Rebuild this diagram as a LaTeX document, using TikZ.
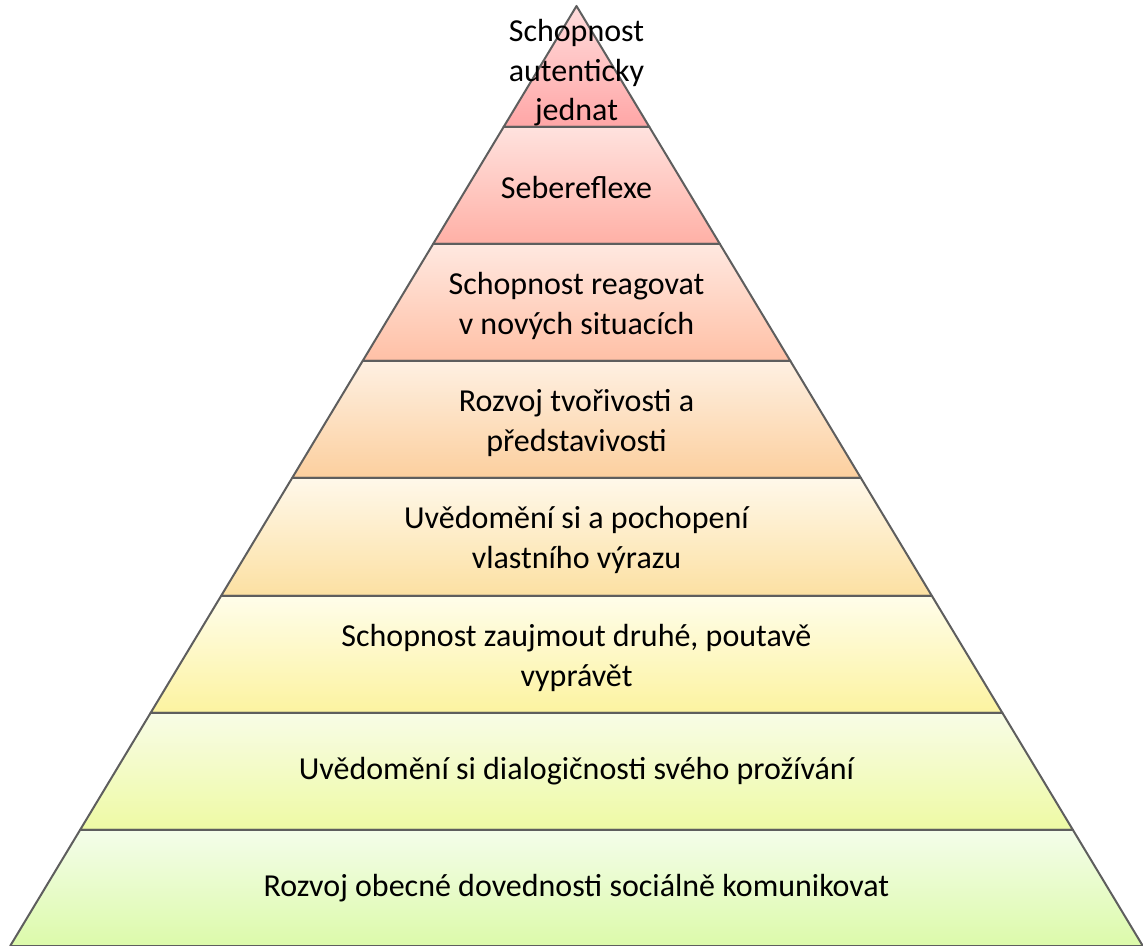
\documentclass[tikz,border=0pt]{standalone}
\usepackage{fontspec}
\setmainfont{Carlito}
\definecolor{t1}{HTML}{FFDCDC}\definecolor{b1}{HTML}{FFA6A6}
\definecolor{t2}{HTML}{FFE2DE}\definecolor{b2}{HTML}{FFB0A6}
\definecolor{t3}{HTML}{FFE8E0}\definecolor{b3}{HTML}{FFC0A6}
\definecolor{t4}{HTML}{FEF0E2}\definecolor{b4}{HTML}{FCCF9E}
\definecolor{t5}{HTML}{FFF8EA}\definecolor{b5}{HTML}{FCE0A2}
\definecolor{t6}{HTML}{FFFDEA}\definecolor{b6}{HTML}{FCF3A0}
\definecolor{t7}{HTML}{F8FCE6}\definecolor{b7}{HTML}{EEFAA4}
\definecolor{t8}{HTML}{F4FDEA}\definecolor{b8}{HTML}{DCFAAA}
\definecolor{edgegray}{HTML}{5E5E5E}
\begin{document}
\begin{tikzpicture}[x=1pt,y=1pt,
  lbl/.style={font=\fontsize{32}{39.5}\selectfont, align=center, text=black, inner sep=0pt},
  edge/.style={draw=edgegray, line width=2pt, line join=round}]
\useasboundingbox (0,0) rectangle (1143,945);
\def\ax{576.5}\def\ay{6}\def\k{0.6025}
\foreach \ya/\yb/\ct/\cb in {6/127/t1/b1,127/244/t2/b2,244/361/t3/b3,361/478/t4/b4,478/596/t5/b5,596/713/t6/b6,713/830/t7/b7,830/946/t8/b8}{
  \pgfmathsetmacro\wa{\k*(\ya-\ay)}
  \pgfmathsetmacro\wb{\k*(\yb-\ay)}
  \shade[top color=\ct, bottom color=\cb] (\ax-\wa,945-\ya) -- (\ax+\wa,945-\ya) -- (\ax+\wb,945-\yb) -- (\ax-\wb,945-\yb) -- cycle;
}
\foreach \ya/\yb in {6/127,127/244,244/361,361/478,478/596,596/713,713/830,830/946}{
  \pgfmathsetmacro\wa{\k*(\ya-\ay)}
  \pgfmathsetmacro\wb{\k*(\yb-\ay)}
  \draw[edge] (\ax-\wa,945-\ya) -- (\ax+\wa,945-\ya) -- (\ax+\wb,945-\yb) -- (\ax-\wb,945-\yb) -- cycle;
}
\node[lbl] (l1) at (\ax,945-73) {Schopnost\\autenticky\\jednat};
\node[lbl] (l2) at (\ax,945-188) {Sebereflexe};
\node[lbl] (l3) at (\ax,945-306) {Schopnost reagovat\\v nových situacích};
\node[lbl] (l4) at (\ax,945-423) {Rozvoj tvořivosti a\\představivosti};
\node[lbl] (l5) at (\ax,945-540) {Uvědomění si a pochopení\\vlastního výrazu};
\node[lbl] (l6) at (\ax,945-658) {Schopnost zaujmout druhé, poutavě\\vyprávět};
\node[lbl] (l7) at (\ax,945-771) {Uvědomění si dialogičnosti svého prožívání};
\node[lbl] (l8) at (\ax,945-888) {Rozvoj obecné dovednosti sociálně komunikovat};
\end{tikzpicture}
\end{document}
